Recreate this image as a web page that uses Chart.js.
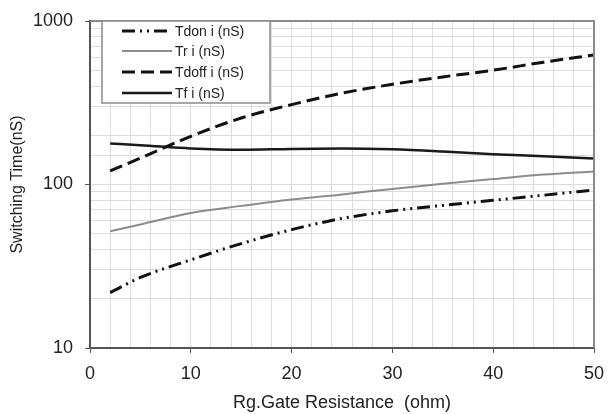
<!DOCTYPE html>
<html>
<head>
<meta charset="utf-8">
<script src="https://cdn.jsdelivr.net/npm/chart.js@4"></script>
<style>
html,body{margin:0;padding:0;background:#fff;}
#wrap{width:608px;height:414px;}
</style>
</head>
<body>
<div id="wrap"><canvas id="swChart" width="608" height="414"></canvas></div>
<script>
/* ===============================
        Switching time data
================================ */

const rgValues = [2, 5, 10, 15, 20, 25, 30, 35, 40, 45, 50];

const tdonValues  = [21.8, 27, 34.6, 43.5, 53, 62, 69, 74.5, 80, 86, 92.5];
const trValues    = [51.7, 57, 67, 74, 81, 87, 94, 101, 108, 115, 120];
const tdoffValues = [121, 145, 197, 255, 308, 362, 410, 455, 500, 560, 620];
const tfValues    = [178, 174, 166, 163, 165, 166, 164, 159, 153, 149, 144];

const seriesLabels = ["Tdon i (nS)", "Tr i (nS)", "Tdoff i (nS)", "Tf i (nS)"];
const xTickLabels = [0, 10, 20, 30, 40, 50];
const yTickLabels = [10, 100, 1000];

const FONT = "'Liberation Sans', Arial, sans-serif";

function pts(vals){
  return rgValues.map((x, i) => ({x: x, y: vals[i]}));
}

/* boxed legend drawn by hand */
const boxLegend = {
  id: "boxLegend",
  afterDatasetsDraw(chart){
    const ctx = chart.ctx;
    const a = chart.chartArea;
    ctx.save();
    // top / right frame
    ctx.strokeStyle = "#8a8a8a";
    ctx.lineWidth = 2;
    ctx.beginPath();
    ctx.moveTo(a.left, a.top);
    ctx.lineTo(a.right, a.top);
    ctx.lineTo(a.right, a.bottom);
    ctx.stroke();

    const bx = 102, by = 21, bw = 168, bh = 82;
    ctx.fillStyle = "#fff";
    ctx.fillRect(bx, by, bw, bh);
    ctx.strokeStyle = "#8a8a8a";
    ctx.lineWidth = 1.5;
    ctx.strokeRect(bx, by, bw, bh);

    const rows = [31, 51, 72, 93];
    ctx.font = "14px " + FONT;
    ctx.textBaseline = "middle";
    chart.data.datasets.forEach((ds, i) => {
      ctx.strokeStyle = ds.borderColor;
      ctx.lineWidth = ds.borderWidth;
      ctx.setLineDash(ds.borderDash || []);
      ctx.beginPath();
      ctx.moveTo(122, rows[i]);
      ctx.lineTo(172, rows[i]);
      ctx.stroke();
      ctx.setLineDash([]);
      ctx.fillStyle = "#222";
      ctx.fillText(ds.label, 175, rows[i] + 1);
    });
    ctx.restore();
  }
};

new Chart(document.getElementById("swChart"), {
  type: "line",
  data: {
    datasets: [
      {label: seriesLabels[0], data: pts(tdonValues), borderColor: "#111",
       borderWidth: 3, borderDash: [13, 5, 2, 5, 2, 5]},
      {label: seriesLabels[1], data: pts(trValues), borderColor: "#8c8c8c",
       borderWidth: 2},
      {label: seriesLabels[2], data: pts(tdoffValues), borderColor: "#111",
       borderWidth: 3, borderDash: [13, 6]},
      {label: seriesLabels[3], data: pts(tfValues), borderColor: "#1a1a1a",
       borderWidth: 2.5}
    ]
  },
  options: {
    responsive: false,
    animation: false,
    layout: {padding: {top: 21, right: 14, left: 0, bottom: 0}},
    elements: {
      point: {radius: 0},
      line: {tension: 0, cubicInterpolationMode: "monotone", fill: false}
    },
    plugins: {legend: {display: false}, tooltip: {enabled: false}},
    scales: {
      x: {
        type: "linear",
        min: 0, max: 50,
        afterFit(s){
          s.height = 66;
          s.paddingLeft = 0;
          s.paddingRight = 0;
        },
        ticks: {
          stepSize: 2,
          autoSkip: false,
          maxRotation: 0,
          padding: 10,
          color: "#222",
          font: {family: FONT, size: 18},
          callback: v => xTickLabels.includes(v) ? String(v) : ""
        },
        grid: {
          color: "#dcdcdc",
          lineWidth: 1,
          tickLength: 5,
          tickColor: c => (c.tick && c.tick.value % 10 === 0) ? "#555" : "rgba(0,0,0,0)"
        },
        border: {color: "#555", width: 2},
        title: {
          display: true,
          text: "Rg.Gate Resistance  (ohm)",
          color: "#222",
          font: {family: FONT, size: 18},
          padding: {top: 0, bottom: 0}
        }
      },
      y: {
        type: "logarithmic",
        min: 10, max: 1000,
        afterFit(s){
          s.width = 90;
          s.paddingTop = 0;
          s.paddingBottom = 0;
        },
        ticks: {
          autoSkip: false,
          padding: 12,
          color: "#222",
          font: {family: FONT, size: 18},
          callback: v => yTickLabels.includes(v) ? String(v) : ""
        },
        grid: {
          color: "#dcdcdc",
          lineWidth: 1,
          tickLength: 5,
          tickColor: c => (c.tick && yTickLabels.includes(c.tick.value)) ? "#555" : "rgba(0,0,0,0)"
        },
        border: {color: "#555", width: 2},
        title: {
          display: true,
          text: "Switching Time(nS)",
          color: "#222",
          font: {family: FONT, size: 16},
          padding: {top: 8, bottom: 0}
        }
      }
    }
  },
  plugins: [boxLegend]
});
</script>
</body>
</html>
